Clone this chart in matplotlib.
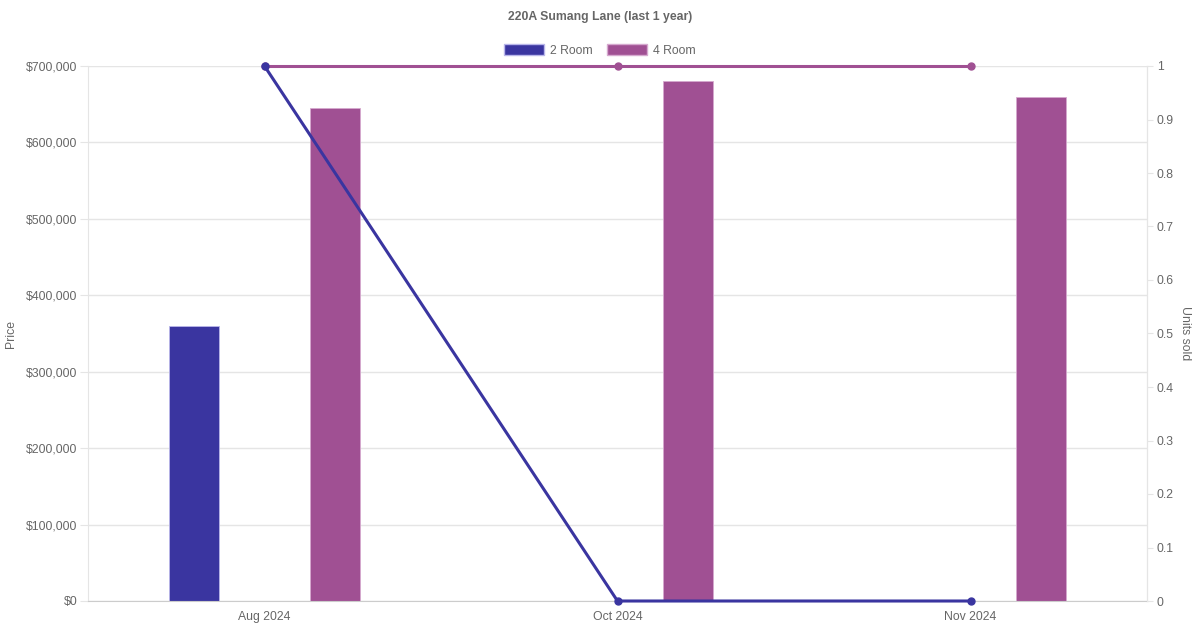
import matplotlib
matplotlib.use("Agg")
import matplotlib.pyplot as plt
from matplotlib.patches import Patch
from matplotlib.ticker import FuncFormatter, MultipleLocator
import numpy as np

plt.rcParams['font.family'] = ['Liberation Sans', 'DejaVu Sans']

categories = ["Aug 2024", "Oct 2024", "Nov 2024"]
price_2room = [360000, None, None]
price_4room = [645000, 680000, 660000]
units_2room = [1, 0, 0]
units_4room = [1, 1, 1]
title = "220A Sumang Lane (last 1 year)"

c2 = "#3a35a0"
c4 = "#a05093"
txt = "#666666"
grid = "#e5e5e5"
fs = 8.8

fig = plt.figure(figsize=(12, 6.3), dpi=100)
ax = fig.add_axes([88/1200, 29/630, (1147-88)/1200, (601-66)/630])
x = np.arange(len(categories))
bw = 0.1416
off = 0.2

p2 = [np.nan if v is None else v for v in price_2room]
ax.bar(x - off, p2, width=bw, color=c2, edgecolor="#b9b6ea", linewidth=0.6, zorder=2)
ax.bar(x + off, price_4room, width=bw, color=c4, edgecolor="#d6a9cf", linewidth=0.6, zorder=2)

ax.set_xlim(-0.5, len(categories) - 0.5)
ax.set_ylim(0, 700000)
ax.yaxis.set_major_locator(MultipleLocator(100000))
ax.yaxis.set_major_formatter(FuncFormatter(lambda v, p: f"${int(v):,}"))
ax.grid(axis='y', color=grid, linewidth=1, zorder=0)
ax.set_axisbelow(True)
ax.set_xticks(x)
ax.set_xticklabels(categories)
ax.tick_params(axis='x', length=0, colors=txt, labelsize=fs, pad=7)
ax.tick_params(axis='y', length=5.8, color=grid, colors=txt, labelsize=fs, pad=2)
ax.spines['top'].set_visible(False)
ax.spines['left'].set_color(grid)
ax.spines['right'].set_color(grid)
ax.spines['bottom'].set_color("#cccccc")
ax.set_ylabel("Price", color=txt, fontsize=fs, labelpad=6)

ax2 = ax.twinx()
ax2.plot(x, units_2room, color=c2, linewidth=2.2, marker='o', markersize=5, zorder=4, clip_on=False)
ax2.plot(x, units_4room, color=c4, linewidth=2.2, marker='o', markersize=5, zorder=3, clip_on=False)
ax2.set_ylim(0, 1)
ax2.yaxis.set_major_locator(MultipleLocator(0.1))
ax2.yaxis.set_major_formatter(FuncFormatter(lambda v, p: "0" if abs(v) < 1e-9 else ("1" if abs(v-1) < 1e-9 else f"{v:.1f}")))
ax2.tick_params(axis='y', length=4, color=grid, colors=txt, labelsize=fs, pad=3)
for s in ['top', 'left', 'bottom']:
    ax2.spines[s].set_visible(False)
ax2.spines['right'].set_color(grid)
ax2.set_ylabel("Units sold", color=txt, fontsize=fs, rotation=270, labelpad=12)

fig.text(0.5, 1 - 17/630, title, ha='center', va='center', fontsize=fs, fontweight='bold', color=txt)
handles = [Patch(facecolor=c2, edgecolor="#b9b6ea", label="2 Room"),
           Patch(facecolor=c4, edgecolor="#d6a9cf", label="4 Room")]
leg = fig.legend(handles=handles, loc='center', bbox_to_anchor=(0.5, 1 - 50.5/630), ncol=2,
                 frameon=False, fontsize=fs, handlelength=3.27, handleheight=0.98,
                 handletextpad=0.5, columnspacing=1.15, labelcolor=txt)

fig.savefig("out.png", dpi=100)
